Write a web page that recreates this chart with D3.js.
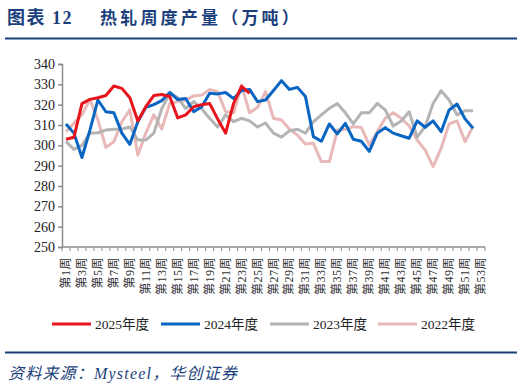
<!DOCTYPE html>
<html>
<head>
<meta charset="utf-8">
<script src="https://cdn.jsdelivr.net/npm/d3@7"></script>
<style>
  body { margin: 0; background: #fff; }
  svg { display: block; }
</style>
</head>
<body>
<svg id="chart" width="524" height="389"></svg>
<script>
const weeks = d3.range(1, 54).map(i => `第${i}周`);
const yTicks = [250, 260, 270, 280, 290, 300, 310, 320, 330, 340];

const v2025 = [303, 304, 320.5, 322.6, 323.4, 324.5, 329.2, 328, 323.4, 312, 319, 324.5, 325, 324,
  313.5, 315, 319, 320, 320.6, 313, 306, 320.6, 329, 325.5];
const v2024 = [310.5, 306, 294, 307.5, 322.3, 316.5, 316, 306, 300.5, 311.6, 318.7, 320, 322, 326,
  322.5, 323, 316.5, 319, 325.6, 325.3, 326, 323, 327, 327.5, 321.5, 322.3, 327, 331.8, 327.5, 328.5,
  324, 304.3, 302, 310.5, 305.6, 310.8, 303, 302, 297, 306, 308.7, 306, 304.7, 303.5, 312, 308.9,
  312, 306.7, 317.4, 320.3, 313, 308.4];
const v2023 = [301.8, 298, 300, 306, 306.2, 307.5, 307.9, 308, 309, 302.6, 302.6, 306, 318, 325.7,
  323.5, 318, 321.5, 318, 313.3, 309, 315, 311.6, 313.3, 312, 309, 311, 306, 304, 307.2, 307.9,
  306, 311.6, 315, 318.2, 320.6, 316, 310.5, 316, 316, 320.6, 317.4, 309.5, 312, 316.5, 304, 309.2,
  320.6, 326.9, 322.3, 315, 317, 317];
const v2022 = [306.7, 310.8, 315, 322.6, 312.5, 299, 301.8, 311.6, 317.4, 295.2, 306, 315, 308, 320.6,
  321.5, 322.3, 324.3, 324.7, 327.5, 326.4, 316.5, 316, 329.7, 316, 318.7, 326.4, 313.3, 312.5, 307.9,
  305, 300.7, 301, 292, 292, 307.5, 307.9, 309.2, 308.8, 300.2, 306.7, 313.3, 316, 313.3, 309.5,
  302.6, 297.7, 289.5, 298.5, 310.5, 312, 301.8, 309.2];

const series = [
  { name: '2025年度', values: v2025, color: '#e8141c' },
  { name: '2024年度', values: v2024, color: '#0865c2' },
  { name: '2023年度', values: v2023, color: '#b4b4b4' },
  { name: '2022年度', values: v2022, color: '#e8b9b8' }
];

const svg = d3.select('#chart');
const navy = '#1b3f7c';
const axisColor = '#8c8c8c';
const serif = '"Liberation Serif", "Times New Roman", "Noto Sans CJK SC", serif';

// header
svg.append('text')
  .attr('x', 7)
  .attr('y', 24)
  .attr('fill', navy)
  .attr('font-family', '"Liberation Serif", "Noto Sans CJK SC", serif')
  .attr('font-weight', 'bold')
  .attr('font-size', 18)
  .attr('letter-spacing', 1.5)
  .text('图表 12');
svg.append('text')
  .attr('x', 100)
  .attr('y', 24)
  .attr('fill', navy)
  .attr('font-family', '"Noto Sans CJK SC", sans-serif')
  .attr('font-weight', 'bold')
  .attr('font-size', 17)
  .attr('letter-spacing', 3.2)
  .text('热轧周度产量（万吨）');
svg.append('line')
  .attr('x1', 5).attr('x2', 517)
  .attr('y1', 38.5).attr('y2', 38.5)
  .attr('stroke', navy)
  .attr('stroke-width', 2);

const margin = { left: 62, right: 39, top: 64, bottom: 142 };
const width = 524 - margin.left - margin.right;
const height = 389 - margin.top - margin.bottom;
const g = svg.append('g').attr('transform', `translate(${margin.left},${margin.top})`);

const x = d3.scaleBand().domain(weeks).range([0, width]);
const y = d3.scaleLinear().domain([250, 340]).range([height, 0]);

// y axis
const yAxis = g.append('g')
  .call(d3.axisLeft(y).tickValues(yTicks).tickSize(4).tickPadding(3));
yAxis.select('.domain').attr('stroke', axisColor).attr('stroke-width', 1.5);
yAxis.selectAll('.tick line').attr('stroke', axisColor).attr('stroke-width', 1.5);
yAxis.selectAll('.tick text')
  .attr('font-family', serif)
  .attr('font-size', 14)
  .attr('fill', '#222');

// x axis, ticks at category boundaries
const xAxis = g.append('g')
  .attr('transform', `translate(0,${height})`);
xAxis.append('line')
  .attr('x1', 0).attr('x2', width)
  .attr('stroke', axisColor)
  .attr('stroke-width', 1.5);
const bounds = weeks.map(w => x(w)).concat([width]);
xAxis.selectAll('.xt')
  .data(bounds)
  .enter().append('line')
  .attr('class', 'xt')
  .attr('x1', d => d).attr('x2', d => d)
  .attr('y1', 0).attr('y2', 4)
  .attr('stroke', axisColor)
  .attr('stroke-width', 1);
xAxis.selectAll('.xl')
  .data(weeks.filter((w, i) => i % 2 === 0))
  .enter().append('text')
  .attr('class', 'xl')
  .attr('transform', d => `translate(${x(d) + x.bandwidth() / 2 + 4},10) rotate(-90)`)
  .attr('text-anchor', 'end')
  .attr('font-family', serif)
  .attr('font-size', 12)
  .attr('letter-spacing', 0.5)
  .attr('fill', '#333')
  .text(d => d);

// lines
const line = d3.line()
  .x((d, i) => x(weeks[i]) + x.bandwidth() / 2)
  .y(d => y(d));

g.selectAll('.series')
  .data(series.slice().reverse())
  .enter().append('path')
  .attr('class', 'series')
  .attr('fill', 'none')
  .attr('stroke', d => d.color)
  .attr('stroke-width', 3)
  .attr('stroke-linejoin', 'round')
  .attr('d', d => line(d.values));

// legend
const legendX = [52, 161, 270, 378];
const legend = svg.selectAll('.legend')
  .data(series)
  .enter().append('g')
  .attr('class', 'legend')
  .attr('transform', (d, i) => `translate(${legendX[i]},324)`);
legend.append('line')
  .attr('x1', 0).attr('x2', 39)
  .attr('stroke', d => d.color)
  .attr('stroke-width', 3);
legend.append('text')
  .attr('x', 43)
  .attr('y', 5)
  .attr('font-family', serif)
  .attr('font-size', 13.5)
  .attr('fill', '#222')
  .text(d => d.name);

// footer
svg.append('line')
  .attr('x1', 5).attr('x2', 517)
  .attr('y1', 352.5).attr('y2', 352.5)
  .attr('stroke', navy)
  .attr('stroke-width', 2);
svg.append('text')
  .attr('x', 8)
  .attr('y', 379)
  .attr('fill', navy)
  .attr('font-family', serif)
  .attr('font-style', 'italic')
  .attr('font-size', 16)
  .attr('letter-spacing', 1.2)
  .text('资料来源：Mysteel，华创证券');
</script>
</body>
</html>
